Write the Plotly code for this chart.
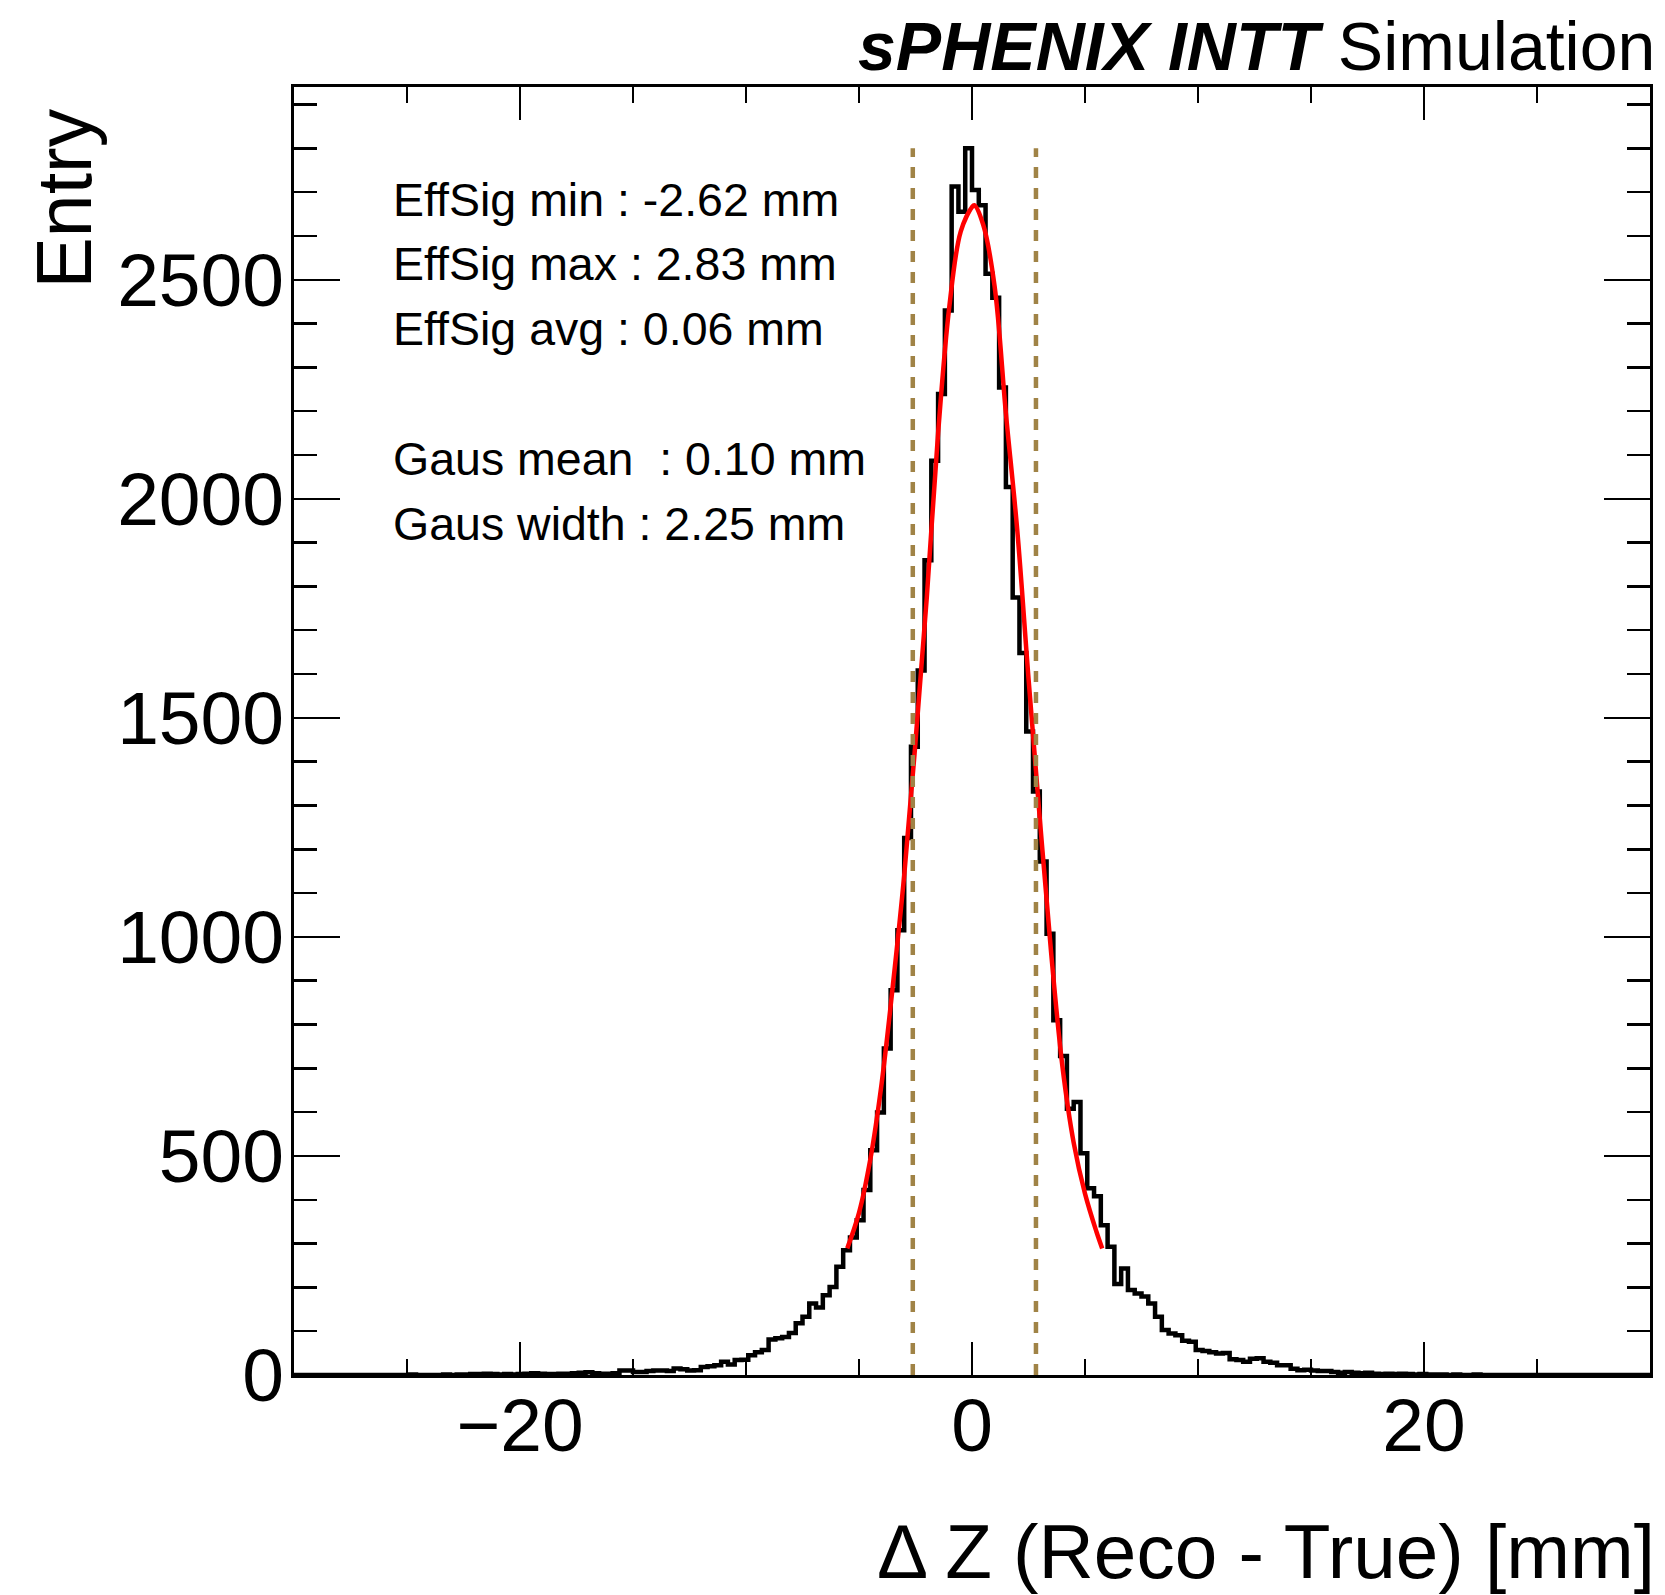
import plotly.graph_objects as go

# ---------------- data ----------------
X_MIN, X_MAX, N_BINS = -30.0, 30.0, 200   # histogram binning (0.3 mm bins)

COUNTS = [
    0, 0, 0, 0, 0, 0, 0, 0, 0, 0,
    0, 0, 0, 0, 0, 0, 0, 1, 0, 0,
    0, 0, 1, 0, 1, 1, 2, 2, 3, 2,
    1, 2, 1, 2, 3, 4, 3, 2, 2, 3,
    3, 4, 5, 6, 4, 3, 3, 4, 10, 10,
    7, 7, 9, 10, 10, 9, 15, 13, 10, 11,
    18, 20, 22, 30, 24, 34, 35, 45, 52, 57,
    81, 84, 87, 96, 118, 133, 163, 154, 182, 201,
    247, 285, 314, 353, 422, 513, 599, 745, 878, 1015,
    1226, 1434, 1608, 1860, 2087, 2239, 2430, 2713, 2655, 2800,
    2705, 2670, 2514, 2459, 2254, 2027, 1775, 1648, 1469, 1332,
    1172, 1007, 810, 728, 608, 623, 506, 426, 408, 342,
    293, 208, 243, 194, 186, 179, 163, 133, 103, 95,
    91, 78, 76, 57, 55, 52, 49, 50, 36, 34,
    30, 37, 38, 30, 28, 22, 22, 14, 11, 12,
    10, 9, 9, 7, 5, 7, 5, 4, 5, 3,
    2, 3, 2, 3, 2, 1, 2, 1, 1, 1,
    0, 1, 0, 0, 1, 0, 0, 0, 0, 0,
    0, 0, 0, 0, 0, 0, 0, 0, 0, 0,
    0, 0, 0, 0, 0, 0, 0, 0, 0, 0,
]

# fitted curve
FIT_X = [-5.52, -5.0, -4.5, -4.0, -3.5, -3.0, -2.5, -2.0, -1.5, -1.0, -0.5, 0.0, 0.1,
         0.5, 1.0, 1.5, 2.0, 2.5, 3.0, 3.5, 4.0, 4.5, 5.0, 5.5, 5.76]
FIT_Y = [289, 370, 492, 665, 890, 1140, 1445, 1775, 2150, 2440, 2610, 2666, 2670,
         2625, 2485, 2195, 1930, 1590, 1270, 965, 705, 530, 414, 328, 289]

EFFSIG_MIN = -2.62
EFFSIG_MAX = 2.83
EFFSIG_AVG = 0.06
GAUS_MEAN = 0.10
GAUS_WIDTH = 2.25

X_TICK_STEP, X_MINOR_STEP = 20, 5
Y_TICK_STEP, Y_MINOR_STEP = 500, 100
Y_MAX = 2940

TITLE_BOLD = "sPHENIX INTT"
TITLE_REST = "Simulation"
X_TITLE = "\u0394 Z (Reco - True) [mm]"
Y_TITLE = "Entry"

# ---------------- layout helpers ----------------
W, H = 1665, 1595
# plot frame in page pixels
L, R, T, B = 294, 1653, 87, 1375
FONT = "Liberation Sans, Arial, Helvetica, sans-serif"


def px(xp):
    return (xp - L) / (R - L)


def py(yp):
    return (B - yp) / (B - T)


bw = (X_MAX - X_MIN) / N_BINS
edges = [X_MIN + i * bw for i in range(N_BINS + 1)]
step_y = COUNTS + [COUNTS[-1]]

fig = go.Figure()
fig.add_trace(go.Scatter(x=edges, y=step_y, mode="lines",
                         line=dict(color="black", width=4.5, shape="hv"),
                         hoverinfo="skip", showlegend=False))
fig.add_trace(go.Scatter(x=FIT_X, y=FIT_Y, mode="lines",
                         line=dict(color="#ff0000", width=4.5, shape="spline", smoothing=1.0),
                         hoverinfo="skip", showlegend=False))
peak = max(COUNTS)
for xv in (EFFSIG_MIN, EFFSIG_MAX):
    fig.add_trace(go.Scatter(x=[xv, xv], y=[0, peak], mode="lines",
                             line=dict(color="#a08346", width=4.5, dash="11px,10px"),
                             hoverinfo="skip", showlegend=False))

axis_common = dict(showline=True, linewidth=3, linecolor="black", mirror="ticks",
                   ticks="inside", tickcolor="black", tickwidth=2.5,
                   showgrid=False, zeroline=False,
                   tickfont=dict(family=FONT, size=75, color="black"))

fig.update_xaxes(range=[X_MIN, X_MAX], tick0=0, dtick=X_TICK_STEP, ticklen=33,
                 ticklabelstandoff=-17,
                 minor=dict(tick0=0, dtick=X_MINOR_STEP, ticks="inside", ticklen=16,
                            tickwidth=2.5, tickcolor="black"),
                 **axis_common)
fig.update_yaxes(range=[0, Y_MAX], tick0=0, dtick=Y_TICK_STEP, ticklen=46,
                 ticklabelstandoff=-8,
                 minor=dict(tick0=0, dtick=Y_MINOR_STEP, ticks="inside", ticklen=23,
                            tickwidth=2.5, tickcolor="black"),
                 **axis_common)

ann = []
ann.append(dict(text=f"<b><i>{TITLE_BOLD}</i></b> {TITLE_REST}", x=px(1660), y=py(46.5),
                xref="paper", yref="paper", xanchor="right", yanchor="middle",
                showarrow=False, font=dict(family=FONT, size=68, color="black")))
ann.append(dict(text=X_TITLE, x=px(1660), y=py(1551), xref="paper", yref="paper",
                xanchor="right", yanchor="middle", showarrow=False,
                font=dict(family=FONT, size=76.5, color="black")))
ann.append(dict(text=Y_TITLE, x=px(63), y=py(199), xref="paper", yref="paper",
                xanchor="center", yanchor="middle", textangle=-90, showarrow=False,
                font=dict(family=FONT, size=77, color="black")))

stat_lines = [
    (f"EffSig min : {EFFSIG_MIN:.2f} mm", 199.7),
    (f"EffSig max : {EFFSIG_MAX:.2f} mm", 264.4),
    (f"EffSig avg : {EFFSIG_AVG:.2f} mm", 328.7),
    (f"Gaus mean \u00a0: {GAUS_MEAN:.2f} mm", 458.7),
    (f"Gaus width : {GAUS_WIDTH:.2f} mm", 523.7),
]
for txt, yc in stat_lines:
    ann.append(dict(text=txt, x=px(391), y=py(yc), xref="paper", yref="paper",
                    xanchor="left", yanchor="middle", showarrow=False,
                    font=dict(family=FONT, size=46.5, color="black")))

fig.update_layout(width=W, height=H, autosize=False,
                  margin=dict(l=L, r=W - R, t=T, b=H - B, pad=0),
                  plot_bgcolor="white", paper_bgcolor="white",
                  annotations=ann, showlegend=False)

fig.write_html("out.html",
               config={"displayModeBar": False, "staticPlot": True},
               post_script="document.body.style.margin='0';document.body.style.overflow='hidden';")
